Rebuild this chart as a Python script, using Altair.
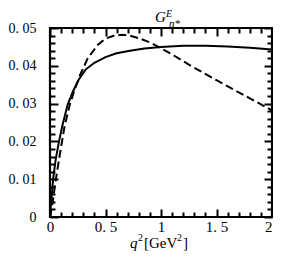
import altair as alt
import pandas as pd

# ---- data ----
solid_q2 = [0, 0.01, 0.03, 0.05, 0.08, 0.11, 0.16, 0.21, 0.26, 0.32, 0.40, 0.50,
            0.60, 0.72, 0.85, 1.00, 1.20, 1.40, 1.60, 1.80, 2.00]
solid_G = [0, 0.0040, 0.0105, 0.0150, 0.0198, 0.0240, 0.0298, 0.0334, 0.0364,
           0.0390, 0.0408, 0.0423, 0.0433, 0.0440, 0.0446, 0.0450, 0.0453,
           0.0453, 0.0451, 0.0448, 0.0443]

dash_q2 = [0, 0.02, 0.05, 0.08, 0.13, 0.18, 0.22, 0.27, 0.34, 0.43, 0.50, 0.58,
           0.65, 0.72, 0.80, 0.90, 0.96, 1.10, 1.28, 1.50, 1.75, 2.00]
dash_G = [0, 0.0030, 0.0095, 0.0150, 0.0238, 0.0299, 0.0335, 0.0375, 0.0420,
          0.0455, 0.0472, 0.0480, 0.0482, 0.0480, 0.0473, 0.0462, 0.0453,
          0.0430, 0.0398, 0.0362, 0.0322, 0.0282]

# tick positions (major ones get labels)
x_ticks = [0, 0.1, 0.2, 0.3, 0.4, 0.5, 0.6, 0.7, 0.8, 0.9, 1.0,
           1.1, 1.2, 1.3, 1.4, 1.5, 1.6, 1.7, 1.8, 1.9, 2.0]
y_ticks = [0, 0.002, 0.004, 0.006, 0.008, 0.010, 0.012, 0.014, 0.016, 0.018,
           0.020, 0.022, 0.024, 0.026, 0.028, 0.030, 0.032, 0.034, 0.036,
           0.038, 0.040, 0.042, 0.044, 0.046, 0.048, 0.050]

W, H = 222, 189
FONT = "Liberation Serif"
MAJ, MIN = 8, 5

df = pd.concat([
    pd.DataFrame({"q2": solid_q2, "G": solid_G, "s": "solid"}),
    pd.DataFrame({"q2": dash_q2, "G": dash_G, "s": "dash"}),
])

xs = alt.Scale(domain=[0, 2], nice=False, zero=False)
ys = alt.Scale(domain=[0, 0.05], nice=False)

x_major = "abs(datum.value * 2 - round(datum.value * 2)) < 1e-6"
y_major = "abs(datum.value * 100 - round(datum.value * 100)) < 1e-6"

xaxis = alt.Axis(
    values=x_ticks, ticks=False, domain=False,
    grid=True, gridColor="black", gridWidth=2, gridOpacity=1,
    gridDash={"condition": {"test": x_major, "value": [MAJ, H - 2 * MAJ, MAJ, 0]},
              "value": [MIN, H - 2 * MIN, MIN, 0]},
    labelExpr=f"({x_major}) ? (datum.value == 0 ? '0' : replace(format(datum.value, '~g'), '.', '. ')) : ''",
    labelFont=FONT, labelFontSize=15, labelColor="black",
    labelAlign={"condition": {"test": "datum.value == 2", "value": "right"},
                "value": "center"},
    labelPadding=2, labelFlush=False, labelOverlap=False, title=None)
yaxis = alt.Axis(
    values=y_ticks, ticks=False, domain=False,
    grid=True, gridColor="black", gridWidth=2, gridOpacity=1,
    gridDash={"condition": {"test": y_major, "value": [MAJ, W - 2 * MAJ, MAJ, 0]},
              "value": [MIN, W - 2 * MIN, MIN, 0]},
    labelExpr=f"({y_major}) ? (datum.value == 0 ? '0' : replace(format(datum.value, '.2f'), '.', '. ')) : ''",
    labelFont=FONT, labelFontSize=14, labelColor="black",
    labelPadding=14, labelFlush=False, labelOverlap=False, title=None)

X = lambda f: alt.X(f, scale=xs, axis=xaxis)
Y = lambda f: alt.Y(f, scale=ys, axis=yaxis)

solid = alt.Chart(df[df.s == "solid"]).mark_line(color="black", strokeWidth=2).encode(
    x=X("q2:Q"), y=Y("G:Q"))
dash = alt.Chart(df[df.s == "dash"]).mark_line(color="black", strokeWidth=2,
                                                strokeDash=[8, 4]).encode(
    x=X("q2:Q"), y=Y("G:Q"))

one = alt.Data(values=[{"a": 1}])


def txt(s, x, y, size, italic=False):
    kw = dict(font=FONT, fontSize=size, align="left", baseline="alphabetic",
              color="black")
    if italic:
        kw["fontStyle"] = "italic"
    return alt.Chart(one).mark_text(text=s, **kw).encode(
        x=alt.value(x), y=alt.value(y))


title = [txt("G", 105, -6, 15, True), txt("E", 116, -11, 10, True),
         txt("n*", 119, -1, 11, True)]
xtitle = [txt("q", 80, 220, 15, True), txt("2", 88, 213, 10),
          txt("[GeV", 94, 220, 15), txt("2", 127, 213, 10),
          txt("]", 133, 220, 15)]

layers = [solid, dash] + title + xtitle

chart = alt.layer(*layers).properties(
    width=W, height=H,
    autosize=alt.AutoSizeParams(type="none"),
    padding={"left": 42, "top": 20, "right": 1, "bottom": 34},
).configure_view(stroke="black", strokeWidth=2.2)

chart.save("out.html", embed_options={"renderer": "svg", "actions": False})
